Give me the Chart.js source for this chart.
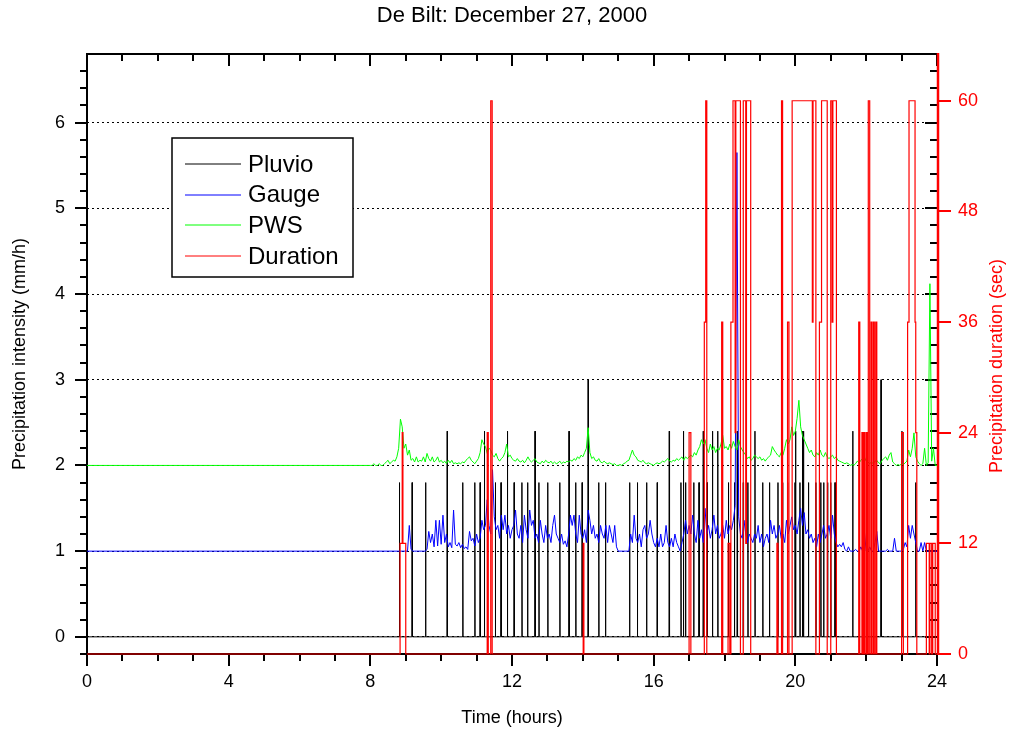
<!DOCTYPE html>
<html>
<head>
<meta charset="utf-8">
<script src="https://cdn.jsdelivr.net/npm/chart.js@4.4.1/dist/chart.umd.min.js"></script>
<style>
  html, body { margin: 0; padding: 0; background: #fff; }
  canvas { display: block; }
</style>
</head>
<body>
<canvas id="chart" width="1012" height="733" style="width:1012px;height:733px"></canvas>
<script>
// ---- Tick labels and series names ----
const hourTicks = [0, 4, 8, 12, 16, 20, 24];
const intensityTicks = [0, 1, 2, 3, 4, 5, 6];
const durationTicks = [0, 12, 24, 36, 48, 60];
const seriesNames = ['Pluvio', 'Gauge', 'PWS', 'Duration'];
const seriesColors = ['#000000', '#0000ff', '#00ff00', '#ff0000'];

// ---- Pluvio (mm/h): zero except single-sample spikes ----
const pluvioTimes = [8.82, 9.18, 9.56, 10.17, 10.61, 10.95, 11.10, 11.22, 11.53, 11.69, 11.87, 12.06, 12.28, 12.44,
  12.65, 12.76, 13.01, 13.35, 13.61, 13.80, 13.98, 14.15, 14.45, 14.64, 15.32, 15.54, 15.80, 16.10, 16.44, 16.77,
  16.84, 16.90, 17.13, 17.28, 17.40, 17.51, 17.66, 17.81, 18.11, 18.28, 18.36, 18.53, 18.66, 18.86, 19.08, 19.27,
  19.51, 19.64, 19.78, 19.99, 20.01, 20.13, 20.20, 20.23, 20.37, 20.58, 20.72, 20.80, 20.91, 21.00, 21.12, 21.62,
  22.03, 22.42, 23.01, 23.40];
const pluvioValues = [1.8, 1.8, 1.8, 2.4, 1.8, 1.8, 1.8, 2.4, 1.8, 1.8, 2.4, 1.8, 1.8, 1.8,
  2.4, 1.8, 1.8, 1.8, 2.4, 1.8, 1.8, 3.0, 1.8, 1.8, 1.8, 1.8, 1.8, 1.8, 2.4, 1.8,
  2.4, 1.8, 1.8, 1.8, 2.4, 1.8, 2.4, 2.4, 1.8, 1.8, 2.4, 1.8, 1.8, 2.4, 1.8, 1.8,
  1.8, 1.8, 1.8, 1.8, 2.4, 1.8, 2.4, 2.4, 1.8, 1.8, 1.8, 1.8, 1.8, 1.8, 1.8, 2.4,
  1.8, 3.0, 2.4, 1.8];

// ---- Gauge (mm/h): level before the first sample, then 3-minute samples from 09:00 ----
const gaugeIdle = 1.0;
const gaugeStart = 9.0, gaugeStep = 0.05;
const gaugeValues = [
  1.0,1.0,1.3,1.02,1.0,1.0,1.0,1.0,1.0,1.0,1.0,1.0,1.02,1.23,1.1,1.2,1.05,1.36,1.06,1.36,
  1.08,1.42,1.1,1.2,1.05,1.1,1.04,1.48,1.08,1.06,1.1,1.04,1.08,1.03,1.05,1.02,1.23,1.12,1.15,1.06,
  1.2,1.1,1.15,1.36,1.25,1.3,1.6,1.3,1.2,1.95,1.4,1.25,1.3,1.15,1.42,1.25,1.42,1.2,1.3,1.15,
  1.25,1.3,1.48,1.2,1.15,1.3,1.1,1.42,1.25,1.15,1.48,1.3,1.36,1.15,1.2,1.1,1.36,1.2,1.1,1.3,
  1.15,1.2,1.1,1.3,1.42,1.2,1.15,1.1,1.2,1.08,1.12,1.05,1.2,1.42,1.3,1.42,1.2,1.1,1.42,1.2,
  1.15,1.25,1.1,1.48,1.36,1.2,1.3,1.15,1.2,1.1,1.3,1.2,1.15,1.3,1.1,1.3,1.2,1.1,1.3,1.05,
  1.0,1.0,1.0,1.0,1.0,1.0,1.0,1.2,1.1,1.42,1.15,1.1,1.2,1.05,1.25,1.3,1.15,1.2,1.36,1.2,
  1.1,1.05,1.15,1.05,1.2,1.05,1.1,1.3,1.1,1.05,1.15,1.05,1.2,1.1,1.05,1.0,1.1,1.2,1.36,1.2,
  1.3,1.2,1.42,1.2,1.1,1.36,1.15,1.25,1.1,1.5,1.2,1.3,1.15,1.25,1.42,1.2,1.3,1.15,1.2,1.3,
  1.15,1.36,1.2,1.3,1.25,1.36,1.53,5.65,1.4,1.2,1.15,1.36,1.2,1.1,1.2,1.15,1.1,1.2,1.15,1.3,
  1.1,1.2,1.05,1.15,1.2,1.1,1.36,1.2,1.3,1.15,1.2,1.3,1.15,1.2,1.1,1.36,1.2,1.3,1.4,1.25,
  1.3,1.2,1.36,1.5,1.3,1.45,1.2,1.25,1.15,1.2,1.1,1.15,1.05,1.2,1.1,1.2,1.3,1.15,1.2,1.3,
  1.15,1.42,1.2,1.1,1.05,1.08,1.05,1.1,1.02,1.0,1.05,1.0,1.0,1.0,1.02,1.0,1.0,1.05,1.0,1.23,
  1.0,1.0,1.05,1.0,1.0,1.1,1.23,1.0,1.0,1.0,1.0,1.0,1.02,1.0,1.0,1.0,1.15,1.0,1.0,1.0,
  1.0,1.02,1.1,1.05,1.3,1.15,1.3,1.2,1.1,1.0,1.0,1.1,1.0,1.1,1.0,1.0,1.0,1.0,1.0,1.0,
  1.0];

// ---- PWS (mm/h): level before the first sample, then 3-minute samples from 08:00 ----
const pwsIdle = 2.0;
const pwsStart = 8.0, pwsStep = 0.05;
const pwsValues = [
  2.0,2.0,2.02,2.0,2.0,2.02,2.0,2.0,2.02,2.04,2.06,2.02,2.04,2.06,2.05,2.1,2.2,2.54,2.45,2.2,
  2.25,2.12,2.18,2.06,2.08,2.04,2.1,2.04,2.06,2.05,2.1,2.04,2.14,2.08,2.05,2.1,2.04,2.06,2.1,2.04,
  2.06,2.03,2.05,2.02,2.06,2.03,2.06,2.02,2.03,2.02,2.03,2.02,2.04,2.03,2.06,2.08,2.1,2.06,2.04,2.02,
  2.05,2.08,2.15,2.3,2.25,2.22,2.14,2.2,2.18,2.12,2.1,2.14,2.08,2.05,2.08,2.1,2.15,2.25,2.1,2.12,
  2.08,2.06,2.05,2.08,2.05,2.04,2.06,2.03,2.06,2.1,2.06,2.04,2.06,2.08,2.04,2.03,2.02,2.05,2.03,2.06,
  2.04,2.03,2.05,2.02,2.04,2.02,2.03,2.05,2.02,2.04,2.03,2.05,2.04,2.06,2.05,2.08,2.06,2.1,2.08,2.12,
  2.1,2.15,2.2,2.44,2.15,2.08,2.1,2.06,2.05,2.08,2.04,2.03,2.05,2.03,2.02,2.03,2.02,2.01,2.02,2.0,
  2.0,2.01,2.0,2.02,2.03,2.05,2.06,2.12,2.18,2.12,2.1,2.06,2.05,2.04,2.06,2.03,2.02,2.03,2.02,2.01,
  2.0,2.02,2.03,2.02,2.03,2.05,2.04,2.06,2.08,2.05,2.04,2.06,2.05,2.08,2.06,2.08,2.1,2.06,2.1,2.08,
  2.1,2.12,2.1,2.15,2.12,2.18,2.22,2.3,2.25,2.3,2.2,2.15,2.25,2.18,2.22,2.15,2.2,2.18,2.25,2.35,
  2.2,2.22,2.18,2.25,2.2,2.28,2.22,2.18,2.3,2.22,2.18,2.15,2.12,2.08,2.1,2.06,2.08,2.12,2.1,2.08,
  2.1,2.06,2.08,2.05,2.08,2.1,2.12,2.22,2.18,2.15,2.12,2.1,2.15,2.12,2.2,2.3,2.25,2.3,2.45,2.35,
  2.4,2.55,2.76,2.45,2.35,2.3,2.25,2.2,2.15,2.18,2.12,2.1,2.15,2.12,2.18,2.12,2.1,2.15,2.1,2.08,
  2.1,2.12,2.08,2.1,2.06,2.05,2.04,2.03,2.02,2.03,2.02,2.0,2.01,2.0,2.02,2.05,2.03,2.06,2.08,2.1,
  2.05,2.04,2.02,2.04,2.02,2.05,2.06,2.03,2.02,2.06,2.08,2.1,2.06,2.12,2.15,2.04,2.02,2.0,2.01,2.0,
  2.02,2.01,2.03,2.05,2.18,2.1,2.2,2.38,2.1,2.05,2.02,2.0,2.02,2.2,2.0,2.03,4.12,2.05,2.2,2.0,
  2.0];

// ---- Precipitation duration (sec): value holds from each time until the next ----
const durationTimes = [0, 8.84, 8.90, 8.92, 9.00, 11.30, 11.33, 11.40, 11.44, 14.01, 14.03,
  17.00, 17.05, 17.43, 17.47, 17.50, 17.92, 17.95, 18.10, 18.15, 18.18, 18.24, 18.30, 18.32, 18.45,
  18.53, 18.60, 18.62, 18.74, 19.48, 19.51, 19.61, 19.64, 19.78, 19.82, 19.91, 20.48, 20.50, 20.58,
  20.68, 20.74, 20.90, 21.00, 21.04, 21.06, 21.16, 21.79, 21.82, 21.88, 21.90, 21.93, 21.96, 22.00,
  22.03, 22.06, 22.10, 22.14, 22.16, 22.20, 22.23, 22.27, 22.30, 23.00, 23.05, 23.17, 23.21, 23.38,
  23.40, 23.43, 23.70, 23.78, 23.80, 23.85, 23.88, 23.95, 24.00];
const durationValues = [0, 12, 24, 12, 0, 24, 0, 60, 0, 12, 0,
  24, 0, 36, 60, 0, 36, 0, 12, 0, 36, 60, 24, 60, 0,
  60, 12, 60, 0, 12, 0, 60, 0, 36, 0, 60, 36, 60, 0,
  36, 60, 0, 60, 36, 60, 0, 36, 0, 24, 0, 24, 0, 24,
  0, 60, 0, 36, 0, 36, 0, 36, 0, 24, 0, 36, 60, 36,
  24, 0, 12, 0, 12, 0, 12, 0, 0];

// ---- Build point tables from the arrays above ----
const pluvioData = [{ x: 0, y: 0 }];
pluvioTimes.forEach((t, i) => {
  pluvioData.push({ x: t - 0.008, y: 0 }, { x: t, y: pluvioValues[i] }, { x: t + 0.008, y: 0 });
});
pluvioData.push({ x: 24, y: 0 });

const sampled = (idle, start, step, values) =>
  [{ x: 0, y: idle }].concat(values.map((v, i) => ({ x: +(start + i * step).toFixed(3), y: v })));
const gaugeData = sampled(gaugeIdle, gaugeStart, gaugeStep, gaugeValues);
const pwsData = sampled(pwsIdle, pwsStart, pwsStep, pwsValues);
const durationData = durationTimes.map((t, i) => ({ x: t, y: durationValues[i] }));

const FONT = "'Liberation Sans', Arial, sans-serif";

// Axis frame with Origin-style major/minor ticks, drawn under the data
const frameTicks = {
  id: 'frameTicks',
  beforeDatasetsDraw(chart) {
    const { ctx, chartArea: a, scales: { x, y, y2 } } = chart;
    const seg = (x1, y1, x2, y2_) => { ctx.beginPath(); ctx.moveTo(x1, y1); ctx.lineTo(x2, y2_); ctx.stroke(); };
    ctx.save();
    ctx.lineWidth = 2;
    ctx.strokeStyle = '#000';
    // hours: outward on the bottom, inward on the top
    for (let h = 0; h <= 24; h++) {
      const px = Math.round(x.getPixelForValue(h));
      const len = h % 4 === 0 ? 12 : 7;
      seg(px, a.bottom, px, a.bottom + len);
      seg(px, a.top, px, a.top + len);
    }
    // intensity: every 0.2 mm/h, outward on the left, inward on the right
    for (let k = -1; k <= 33; k++) {
      const py = Math.round(y.getPixelForValue(k / 5));
      const len = k % 5 === 0 ? 12 : 7;
      seg(a.left - len, py, a.left, py);
      seg(a.right - len, py, a.right, py);
    }
    // frame
    seg(a.left, a.top - 1, a.left, a.bottom + 1);
    seg(a.left - 1, a.top, a.right, a.top);
    seg(a.left - 1, a.bottom, a.right, a.bottom);
    // duration axis in red with outward ticks
    ctx.strokeStyle = '#ff0000';
    ctx.lineWidth = 2.5;
    seg(a.right + 1, a.top - 1, a.right + 1, a.bottom + 1);
    ctx.lineWidth = 2;
    durationTicks.forEach(v => {
      const py = Math.round(y2.getPixelForValue(v));
      seg(a.right + 1, py, a.right + 14, py);
    });
    ctx.restore();
  },
  afterDraw(chart) {
    const { ctx, chartArea: a } = chart;
    // right-hand axis title, reading bottom to top
    ctx.save();
    ctx.fillStyle = '#ff0000';
    ctx.font = '18px ' + FONT;
    ctx.textAlign = 'center';
    ctx.textBaseline = 'middle';
    ctx.translate(997, (a.top + a.bottom) / 2 + 12);
    ctx.rotate(-Math.PI / 2);
    ctx.fillText('Precipitation duration (sec)', 0, 0);
    ctx.restore();

    // legend box inside the plot
    const bx = 172, by = 138, bw = 181, bh = 139;
    ctx.save();
    ctx.fillStyle = '#fff';
    ctx.fillRect(bx, by, bw, bh);
    ctx.strokeStyle = '#000';
    ctx.lineWidth = 1.5;
    ctx.strokeRect(bx, by, bw, bh);
    ctx.font = '24px ' + FONT;
    ctx.textBaseline = 'middle';
    ctx.textAlign = 'left';
    chart.data.datasets.forEach((ds, i) => {
      const cy = 164 + i * 30.7;
      ctx.strokeStyle = ds.borderColor;
      ctx.lineWidth = 1;
      ctx.beginPath();
      ctx.moveTo(185, Math.round(cy));
      ctx.lineTo(241, Math.round(cy));
      ctx.stroke();
      ctx.fillStyle = '#000';
      ctx.fillText(ds.label, 248, cy + 1);
    });
    ctx.restore();
  }
};

const lineSet = (i, data, axis, extra) => Object.assign({
  label: seriesNames[i],
  data,
  yAxisID: axis,
  borderColor: seriesColors[i],
  backgroundColor: seriesColors[i],
  borderWidth: 1,
  pointRadius: 0,
  tension: 0,
  fill: false
}, extra || {});

new Chart(document.getElementById('chart'), {
  type: 'line',
  data: {
    datasets: [
      lineSet(0, pluvioData, 'y', { order: 3 }),
      lineSet(1, gaugeData, 'y', { order: 2 }),
      lineSet(2, pwsData, 'y', { order: 1 }),
      lineSet(3, durationData, 'y2', { order: 0, stepped: true, borderWidth: 1.2, clip: { left: 0, top: 0, right: 0, bottom: 2 } })
    ]
  },
  options: {
    responsive: false,
    animation: false,
    devicePixelRatio: 1,
    events: [],
    layout: { padding: 0 },
    plugins: {
      legend: { display: false },
      tooltip: { enabled: false },
      title: {
        display: true,
        fullSize: false,
        text: 'De Bilt: December 27, 2000',
        color: '#000',
        font: { family: FONT, size: 22, weight: 'normal' },
        padding: { top: 3, bottom: 24.6 }
      }
    },
    scales: {
      x: {
        type: 'linear',
        position: 'bottom',
        min: 0,
        max: 24,
        afterBuildTicks: s => { s.ticks = hourTicks.map(v => ({ value: v })); },
        afterFit: s => { s.height = 79; },
        grid: { display: false, drawTicks: false },
        border: { display: false },
        ticks: { color: '#000', padding: 17, font: { family: FONT, size: 18 }, maxRotation: 0 },
        title: { display: true, text: 'Time (hours)', color: '#000', font: { family: FONT, size: 18 }, padding: { top: 0, bottom: 4 } }
      },
      y: {
        type: 'linear',
        position: 'left',
        min: -0.2,
        max: 6.8,
        afterBuildTicks: s => { s.ticks = intensityTicks.map(v => ({ value: v })); },
        afterFit: s => { s.width = 87; },
        grid: { drawTicks: false, color: '#000', lineWidth: 1 },
        border: { display: false, dash: [2, 3] },
        ticks: { color: '#000', padding: 22, font: { family: FONT, size: 18 } },
        title: { display: true, text: 'Precipitation intensity (mm/h)', color: '#000', font: { family: FONT, size: 18 }, padding: { top: 9, bottom: 0 } }
      },
      y2: {
        type: 'linear',
        position: 'right',
        min: 0,
        max: 65.07,
        afterBuildTicks: s => { s.ticks = durationTicks.map(v => ({ value: v })); },
        afterFit: s => { s.width = 75; },
        grid: { display: false, drawTicks: false },
        border: { display: false },
        ticks: { color: '#ff0000', padding: 21, font: { family: FONT, size: 18 } }
      }
    }
  },
  plugins: [frameTicks]
});
</script>
</body>
</html>
